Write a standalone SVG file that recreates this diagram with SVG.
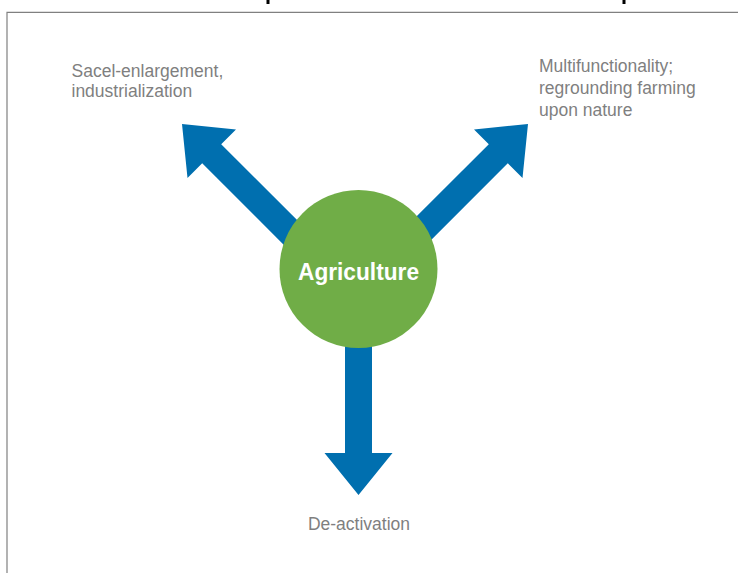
<svg xmlns="http://www.w3.org/2000/svg" width="738" height="573" viewBox="0 0 738 573">
  <style>
    .arrow { fill: #006FAF; }
    .label { font-family: "Liberation Sans", Arial, sans-serif; font-size: 17.5px; fill: #7F7F7F; }
    .title { font-family: "Liberation Sans", Arial, sans-serif; font-size: 24px; font-weight: bold; fill: #FFFFFF; }
    .frame { fill: none; stroke: #808080; stroke-width: 1.2; }
  </style>
  <rect x="0" y="0" width="738" height="573" fill="#FFFFFF"/>
  <path class="frame" d="M7,573 V12.3 H738"/>
  <rect x="266.5" y="0" width="3" height="4" fill="#000000"/>
  <rect x="622.5" y="0" width="3" height="4" fill="#000000"/>

  <g id="connectors">
    <polygon class="arrow" points="182,124 236,129.5 221.2,144.2 309.6,232.6 290.6,251.7 202.2,163.3 187.5,178"/>
    <polygon class="arrow" points="528,124 522.5,178 507.8,163.3 419.4,251.7 400.4,232.6 488.8,144.2 474,129.5"/>
    <polygon class="arrow" points="345,300 372,300 372,453 392.5,453 358.5,495 324.5,453 345,453"/>
  </g>

  <g id="agriculture">
    <circle cx="358.5" cy="269" r="79" fill="#70AD47"/>
    <text class="title" x="358.5" y="280" text-anchor="middle" textLength="121" lengthAdjust="spacingAndGlyphs">Agriculture</text>
  </g>

  <g id="label-left">
    <text class="label" x="71.5" y="76.5">Sacel-enlargement,</text>
    <text class="label" x="71.5" y="96.5">industrialization</text>
  </g>

  <g id="label-right">
    <text class="label" x="539" y="72">Multifunctionality;</text>
    <text class="label" x="539" y="94">regrounding farming</text>
    <text class="label" x="539" y="116">upon nature</text>
  </g>

  <g id="label-bottom">
    <text class="label" x="359" y="530" text-anchor="middle">De-activation</text>
  </g>
</svg>
